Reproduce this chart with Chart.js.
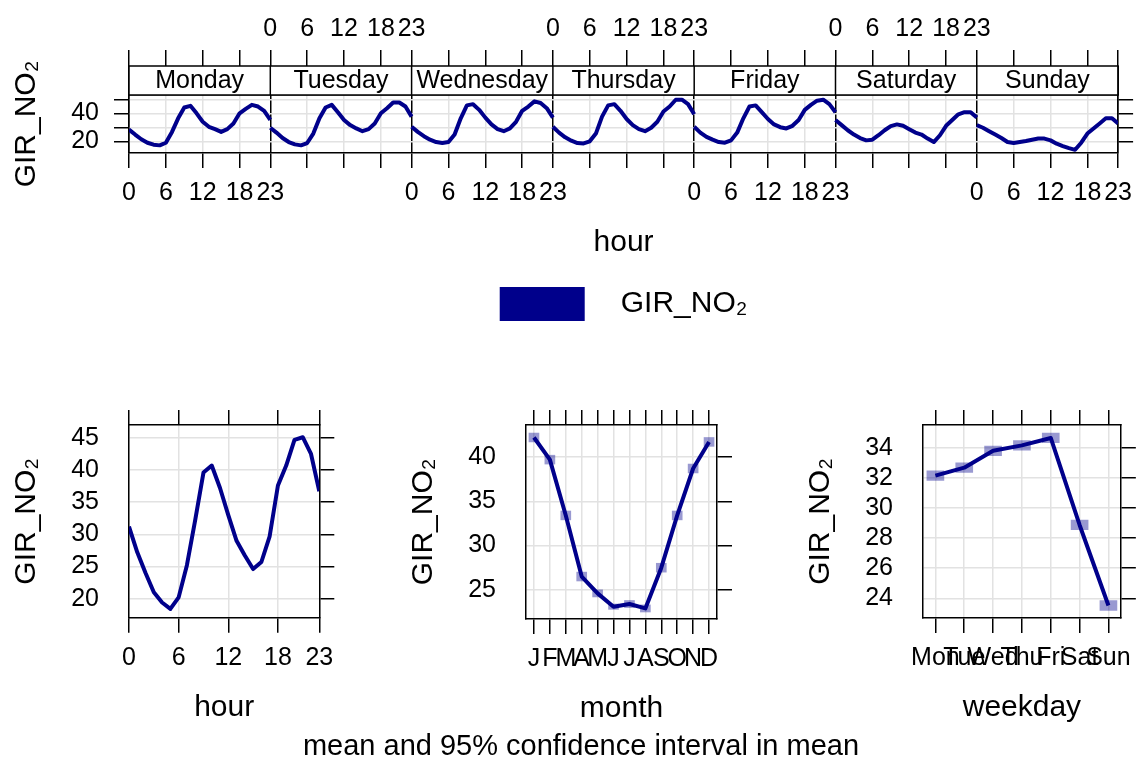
<!DOCTYPE html>
<html>
<head>
<meta charset="utf-8">
<script src="https://cdn.jsdelivr.net/npm/chart.js@4.4.1/dist/chart.umd.min.js"></script>
<style>
  html, body { margin: 0; padding: 0; background: #fff; overflow: hidden; }
  #page { position: relative; width: 1142px; height: 762px; }
  canvas { position: absolute; }
</style>
</head>
<body>
<div id="page">
  <canvas id="weekHour" width="1142" height="331" style="left:0px;top:0px"></canvas>
  <canvas id="hourChart" width="380" height="350" style="left:0px;top:380px"></canvas>
  <canvas id="monthChart" width="1122" height="384" style="left:20px;top:380px"></canvas>
  <canvas id="weekdayChart" width="382" height="350" style="left:760px;top:380px"></canvas>
</div>
<script>
// ---- data ----
const dayNames = ['Monday', 'Tuesday', 'Wednesday', 'Thursday', 'Friday', 'Saturday', 'Sunday'];
const hourTicks = [0, 6, 12, 18, 23];

const monday    = [28.5, 24.9, 21.5, 19.0, 17.6, 17.1, 19.0, 26.8, 36.6, 44.4, 45.6, 40.2, 34.1, 30.5, 28.8, 26.8, 28.8, 32.9, 40.2, 43.4, 46.3, 45.1, 42.0, 35.4];
const tuesday   = [29.8, 26.3, 22.4, 19.5, 17.8, 17.1, 18.8, 25.6, 36.6, 44.4, 46.3, 41.0, 35.4, 31.7, 29.3, 27.3, 28.8, 32.9, 40.2, 43.9, 48.0, 48.0, 45.1, 37.8];
const wednesday = [30.5, 26.8, 23.7, 21.2, 19.5, 18.8, 19.5, 24.9, 36.6, 45.9, 46.8, 42.7, 37.1, 32.2, 28.8, 27.3, 29.3, 34.1, 42.0, 45.1, 48.8, 47.6, 43.9, 37.1];
const thursday  = [30.5, 26.3, 22.9, 20.5, 18.8, 18.5, 20.0, 25.6, 37.8, 45.9, 46.8, 42.0, 36.1, 31.7, 28.8, 27.3, 29.8, 34.1, 41.5, 45.1, 50.0, 50.0, 46.8, 39.5];
const friday    = [30.5, 26.3, 23.2, 21.2, 19.5, 19.0, 20.7, 26.3, 36.6, 45.1, 45.9, 41.0, 36.1, 32.2, 30.2, 29.3, 31.2, 35.4, 42.7, 46.3, 49.3, 50.0, 46.8, 41.0];
const saturday  = [35.4, 31.7, 28.0, 24.9, 22.4, 20.7, 21.2, 24.4, 28.0, 31.0, 32.2, 31.2, 28.8, 26.3, 24.9, 22.0, 19.5, 24.4, 31.2, 35.4, 39.5, 41.0, 41.0, 37.1];
const sunday    = [31.7, 29.8, 27.3, 24.9, 22.4, 19.5, 18.8, 19.5, 20.2, 21.2, 22.0, 22.0, 20.7, 18.3, 16.6, 15.1, 13.9, 19.0, 25.6, 29.3, 32.9, 36.6, 36.6, 32.9];
const weekHours = [monday, tuesday, wednesday, thursday, friday, saturday, sunday];

const hourMean = [31.2, 27.2, 24.0, 21.0, 19.4, 18.4, 20.2, 25.2, 32.2, 39.6, 40.7, 37.2, 33.0, 29.0, 26.7, 24.6, 25.7, 29.7, 37.6, 40.7, 44.7, 45.1, 42.5, 36.7];

const monthLabels = ['J', 'F', 'M', 'A', 'M', 'J', 'J', 'A', 'S', 'O', 'N', 'D'];
const monthMean = [42.2, 39.7, 33.4, 26.5, 24.6, 23.1, 23.4, 22.9, 27.5, 33.4, 38.7, 41.7];
const monthLow  = [41.7, 39.2, 32.9, 26.0, 24.2, 22.8, 23.0, 22.5, 27.0, 32.9, 38.2, 41.2];
const monthHigh = [42.7, 40.2, 33.9, 27.0, 25.0, 23.4, 23.8, 23.3, 28.0, 33.9, 39.2, 42.2];

const weekdayLabels = ['Mon', 'Tue', 'Wed', 'Thu', 'Fri', 'Sat', 'Sun'];
const weekdayMean = [32.14, 32.67, 33.79, 34.15, 34.64, 28.87, 23.53];
const weekdayLow  = [31.82, 32.35, 33.47, 33.83, 34.32, 28.55, 23.21];
const weekdayHigh = [32.46, 32.99, 34.11, 34.47, 34.96, 29.19, 23.85];

// ---- styling ----
const FONT = '"Liberation Sans", Arial, Helvetica, sans-serif';
const BLUE = '#00008B';
const CI_FILL = 'rgba(0, 0, 139, 0.4)';
const GRID = '#e2e2e2';
const YTITLE = 'GIR_NO\u2082';
const tickFont = { family: FONT, size: 25 };
const titleFont = { family: FONT, size: 30 };

Chart.defaults.font.family = FONT;
Chart.defaults.color = '#000';

// one axis of a lattice-style framed panel
function frameAxis(o) {
  const tl = o.tickLength === undefined ? 15 : o.tickLength;
  return {
    type: 'linear',
    position: o.position,
    min: o.min,
    max: o.max,
    offset: false,
    afterBuildTicks: scale => { scale.ticks = o.values.map(v => ({ value: v })); },
    afterFit: scale => {
      if (scale.isHorizontal()) scale.height = o.size; else scale.width = o.size;
    },
    grid: {
      offset: false,
      drawOnChartArea: !!o.grid,
      color: o.gridColor || GRID,
      lineWidth: o.gridWidth || 1.5,
      drawTicks: tl > 0,
      tickLength: tl,
      tickColor: '#000',
      tickWidth: 1.5
    },
    border: { display: true, color: '#000', width: 1.5 },
    ticks: {
      display: !!o.label,
      callback: v => (o.label ? o.label(v) : ''),
      padding: o.pad || 0,
      font: tickFont,
      color: '#000',
      autoSkip: false,
      maxRotation: 0,
      minRotation: 0
    },
    title: o.title
      ? { display: true, text: o.title, font: titleFont, color: '#000', padding: o.titlePad }
      : { display: false }
  };
}

const lineStyle = {
  type: 'line',
  borderColor: BLUE,
  backgroundColor: BLUE,
  borderWidth: 4,
  pointRadius: 0,
  tension: 0,
  borderJoinStyle: 'round',
  order: 1
};

const baseOptions = {
  responsive: false,
  animation: false,
  devicePixelRatio: 1,
  events: [],
  layout: { padding: 0 },
  plugins: { legend: { display: false }, tooltip: { enabled: false }, title: { display: false } }
};

// ---- top panel: hour of day, one lattice panel per weekday ----
const weekTickValues = [];
const bottomLabel = {};
const topLabel = {};
dayNames.forEach((d, i) => {
  hourTicks.forEach(h => {
    const v = i * 23 + h;
    if (!weekTickValues.includes(v)) weekTickValues.push(v);
    if (i % 2 === 0) bottomLabel[v] = String(h); else topLabel[v] = String(h);
  });
});
weekTickValues.sort((a, b) => a - b);

const stripPlugin = {
  id: 'strips',
  afterDraw(chart) {
    const { ctx, chartArea } = chart;
    const xs = chart.scales.x;
    const top = chartArea.top - 29;
    ctx.save();
    ctx.fillStyle = '#fff';
    ctx.fillRect(chartArea.left, top, chartArea.right - chartArea.left, 29);
    ctx.strokeStyle = '#000';
    ctx.lineWidth = 1.5;
    ctx.strokeRect(chartArea.left, top, chartArea.right - chartArea.left, 29);
    ctx.fillStyle = '#000';
    ctx.font = '25px ' + FONT;
    ctx.textAlign = 'center';
    ctx.textBaseline = 'middle';
    dayNames.forEach((d, i) => {
      const x0 = xs.getPixelForValue(i * 23);
      const x1 = xs.getPixelForValue(i * 23 + 23);
      ctx.beginPath();
      ctx.moveTo(x1, top);
      ctx.lineTo(x1, chartArea.top);
      ctx.stroke();
      ctx.fillText(d, (x0 + x1) / 2, top + 15);
    });
    ctx.restore();
  }
};

new Chart(document.getElementById('weekHour'), {
  type: 'line',
  data: {
    datasets: weekHours.map((vals, i) => ({
      ...lineStyle,
      label: dayNames[i],
      data: vals.map((v, h) => ({ x: i * 23 + h, y: v }))
    }))
  },
  options: {
    ...baseOptions,
    scales: {
      x: frameAxis({
        position: 'bottom', min: 0, max: 161, values: weekTickValues, size: 108,
        label: v => bottomLabel[v] || '', pad: 10, grid: true,
        gridColor: c => (c.tick && c.tick.value % 23 === 0 ? '#000' : GRID),
        title: 'hour', titlePad: { top: 0, bottom: 0 }
      }),
      x2: frameAxis({
        position: 'top', min: 0, max: 161, values: weekTickValues, size: 95,
        label: v => topLabel[v] || '', tickLength: 45, pad: 6
      }),
      y: frameAxis({
        position: 'left', min: 11.6, max: 53.4, values: [20, 30, 40, 50], size: 129,
        label: v => (v === 20 || v === 40 ? String(v) : ''), pad: 15, grid: true,
        title: YTITLE, titlePad: { top: 9, bottom: 0 }
      }),
      y2: frameAxis({
        position: 'right', min: 11.6, max: 53.4, values: [20, 30, 40, 50], size: 16
      })
    },
    plugins: {
      ...baseOptions.plugins,
      legend: {
        display: true,
        position: 'bottom',
        fullSize: false,
        align: 'center',
        labels: {
          boxWidth: 85,
          boxHeight: 34,
          padding: 26,
          font: titleFont,
          color: '#000',
          generateLabels: () => [{
            text: '\u2002\u2009' + YTITLE,
            fillStyle: BLUE, strokeStyle: BLUE, lineWidth: 0, hidden: false, datasetIndex: 0
          }]
        }
      }
    }
  },
  plugins: [stripPlugin]
});

// ---- bottom left: hour ----
new Chart(document.getElementById('hourChart'), {
  type: 'line',
  data: {
    datasets: [{ ...lineStyle, label: YTITLE, data: hourMean.map((v, h) => ({ x: h, y: v })) }]
  },
  options: {
    ...baseOptions,
    scales: {
      x: frameAxis({
        position: 'bottom', min: 0, max: 23, values: hourTicks, size: 112.3,
        label: v => String(v), pad: 10, grid: true,
        title: 'hour', titlePad: { top: 0, bottom: 4 }
      }),
      x2: frameAxis({ position: 'top', min: 0, max: 23, values: hourTicks, size: 38.3 }),
      y: frameAxis({
        position: 'left', min: 17.04, max: 47.0, values: [20, 25, 30, 35, 40, 45], size: 129,
        label: v => String(v), tickLength: 0, pad: 30, grid: true,
        title: YTITLE, titlePad: { top: 9, bottom: 0 }
      }),
      y2: frameAxis({ position: 'right', min: 17.04, max: 47.0, values: [20, 25, 30, 35, 40, 45], size: 60.7 })
    }
  }
});

// ---- bottom middle: month (also carries the caption) ----
const monthIdx = monthLabels.map((m, i) => i);
new Chart(document.getElementById('monthChart'), {
  type: 'line',
  data: {
    datasets: [
      {
        type: 'bar', label: 'ci', order: 2,
        data: monthIdx.map(i => ({ x: i, y: [monthLow[i], monthHigh[i]] })),
        backgroundColor: CI_FILL, borderWidth: 0, barThickness: 10
      },
      { ...lineStyle, label: YTITLE, data: monthIdx.map(i => ({ x: i, y: monthMean[i] })) }
    ]
  },
  options: {
    ...baseOptions,
    scales: {
      x: frameAxis({
        position: 'bottom', min: -0.5, max: 11.5, values: monthIdx, size: 110.3,
        label: v => monthLabels[v], pad: 10, grid: true,
        title: 'month', titlePad: { top: 0, bottom: 2 }
      }),
      x2: frameAxis({ position: 'top', min: -0.5, max: 11.5, values: monthIdx, size: 37.7 }),
      y: {
        ...frameAxis({
          position: 'left', min: 21.72, max: 43.61, values: [25, 30, 35, 40], size: 506,
          label: v => String(v), tickLength: 0, pad: 30, grid: true,
          title: YTITLE, titlePad: { top: 386, bottom: 0 }
        }),
        beginAtZero: false
      },
      y2: frameAxis({ position: 'right', min: 21.72, max: 43.61, values: [25, 30, 35, 40], size: 425 })
    },
    plugins: {
      ...baseOptions.plugins,
      title: {
        display: true,
        position: 'bottom',
        text: 'mean and 95% confidence interval in mean',
        font: { family: FONT, size: 29, weight: 'normal' },
        color: '#000',
        padding: 0
      }
    }
  }
});

// ---- bottom right: weekday ----
const weekdayIdx = weekdayLabels.map((d, i) => i);
new Chart(document.getElementById('weekdayChart'), {
  type: 'line',
  data: {
    datasets: [
      {
        type: 'bar', label: 'ci', order: 2,
        data: weekdayIdx.map(i => ({ x: i, y: [weekdayLow[i], weekdayHigh[i]] })),
        backgroundColor: CI_FILL, borderWidth: 0, barThickness: 17
      },
      { ...lineStyle, label: YTITLE, data: weekdayIdx.map(i => ({ x: i, y: weekdayMean[i] })) }
    ]
  },
  options: {
    ...baseOptions,
    scales: {
      x: frameAxis({
        position: 'bottom', min: -0.43, max: 6.43, values: weekdayIdx, size: 112,
        label: v => weekdayLabels[v], pad: 10, grid: true,
        title: 'weekday', titlePad: { top: 0, bottom: 4 }
      }),
      x2: frameAxis({ position: 'top', min: -0.43, max: 6.43, values: weekdayIdx, size: 38.3 }),
      y: {
        ...frameAxis({
          position: 'left', min: 22.7, max: 35.5, values: [24, 26, 28, 30, 32, 34], size: 163,
          label: v => String(v), tickLength: 0, pad: 30, grid: true,
          title: YTITLE, titlePad: { top: 43, bottom: 0 }
        }),
        beginAtZero: false
      },
      y2: frameAxis({ position: 'right', min: 22.7, max: 35.5, values: [24, 26, 28, 30, 32, 34], size: 15.7 })
    }
  }
});
</script>
</body>
</html>
